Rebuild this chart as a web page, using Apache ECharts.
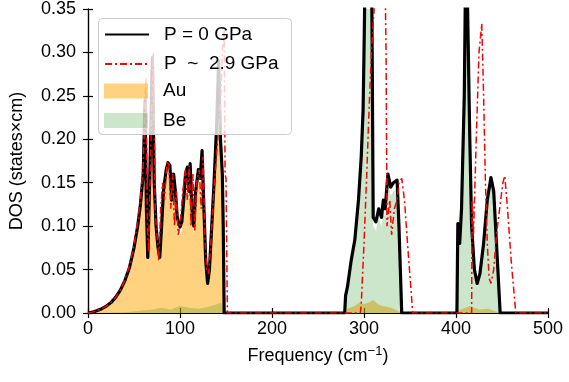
<!DOCTYPE html>
<html>
<head>
<meta charset="utf-8">
<script src="https://cdn.jsdelivr.net/npm/echarts@6/dist/echarts.min.js"></script>
<style>
html,body{margin:0;padding:0;background:#fff;}
#chart{width:569px;height:382px;}
</style>
</head>
<body>
<div id="chart"></div>
<script>
// ---- data ----
var xTicks = [0, 100, 200, 300, 400, 500];
var yTicks = [0.00, 0.05, 0.10, 0.15, 0.20, 0.25, 0.30, 0.35];

var freqP0 = [0,5,10,15,20,25,30,35,40,45,50,54,57,60,62,63.5,65,67,70,72,74,76,78,80,82,85,87,89,91,93,95,97,100,102,104,106,108,110,111,113,115,117,120,122,124,126,128,130,132,134,137,140,142,144,146,147,148,
  279,280,282,286,290,294,297,299,300,302,305,308,310,313,316,319,321,323,326,329,332,336,338,341,
  401,402,404,406,409,411,413,415,417,420,423,426,430,434,438,441,444,448,500];
var dosP0 = [0,0.001,0.003,0.005,0.008,0.012,0.018,0.026,0.037,0.052,0.075,0.1,0.125,0.16,0.245,0.12,0.064,0.15,0.294,0.15,0.1,0.076,0.064,0.1,0.14,0.165,0.173,0.17,0.13,0.16,0.14,0.11,0.099,0.105,0.13,0.16,0.168,0.14,0.172,0.12,0.1,0.14,0.165,0.155,0.187,0.12,0.06,0.034,0.05,0.09,0.15,0.22,0.29,0.2,0.16,0.1,0,
  0,0.02,0.03,0.06,0.084,0.13,0.18,0.233,0.30,0.45,0.5,0.45,0.11,0.105,0.12,0.11,0.13,0.12,0.16,0.145,0.15,0.153,0.1,0,
  0,0.103,0.08,0.12,0.25,0.45,0.45,0.2,0.1,0.05,0.034,0.045,0.08,0.13,0.156,0.14,0.08,0,0];

var freqP29 = [0,5,10,15,20,25,30,35,40,45,50,54,57,60,63,64.5,66,68,71,73,75,77,79,81,83,86,88,90,92,94,96,98,100,103,106,108,110,112,114,116,118,121,123,125,127,129,131,133,135,138,141,144,146,148,149,150,151.5,
  296,297,300,303,305,308,311,314,318,322,324,325,328,330,333,336,338,341,344,348,353,
  417,417.5,419,422,425,428,430,432,434,436,438,441,444,448,451,453,456,460,465,500];
var dosP29 = [0,0.001,0.003,0.005,0.008,0.012,0.018,0.026,0.038,0.054,0.078,0.105,0.13,0.17,0.27,0.1,0.07,0.18,0.30,0.12,0.09,0.06,0.12,0.15,0.13,0.175,0.17,0.12,0.16,0.1,0.14,0.09,0.1,0.14,0.165,0.13,0.17,0.1,0.16,0.095,0.15,0.165,0.12,0.18,0.09,0.05,0.045,0.07,0.11,0.16,0.2,0.24,0.3,0.325,0.16,0.155,0,
  0,0.01,0.08,0.16,0.22,0.3,0.35,0.45,0.5,0.45,0.3,0.1,0.13,0.09,0.12,0.13,0.15,0.155,0.13,0.07,0,
  0,0.13,0.09,0.2,0.3,0.333,0.25,0.15,0.08,0.04,0.034,0.05,0.09,0.125,0.15,0.158,0.12,0.06,0,0];

var freqAu = [0,10,20,30,40,45,50,54,57,60,62,63.5,65,67,70,72,74,76,78,80,82,85,87,89,91,93,95,97,100,102,104,106,108,110,111,113,115,117,120,122,124,126,128,130,132,134,137,140,142,144,146,147,148,
  279,282,290,295,300,305,310,315,320,330,341,401,405,415,425,435,448,500];
var dosAu = [0,0.0028,0.0075,0.017,0.035,0.049,0.071,0.095,0.118,0.15,0.225,0.11,0.058,0.14,0.26,0.14,0.092,0.068,0.058,0.092,0.13,0.153,0.16,0.157,0.12,0.148,0.13,0.1,0.09,0.095,0.12,0.148,0.155,0.13,0.158,0.11,0.09,0.13,0.152,0.143,0.172,0.11,0.054,0.03,0.045,0.082,0.138,0.2,0.26,0.18,0.145,0.09,0,
  0,0.005,0.008,0.012,0.01,0.012,0.015,0.01,0.008,0.006,0,0,0.004,0.008,0.004,0.005,0,0];

var freqBe = [0,40,60,70,80,90,100,110,120,130,140,145,148,
  279,280,282,286,290,294,297,299,300,302,305,308,310,313,316,319,321,323,326,329,332,336,338,341,
  401,402,404,406,409,411,413,415,417,420,423,426,430,434,438,441,444,448,500];
var dosBe = [0,0.001,0.003,0.004,0.006,0.004,0.008,0.006,0.005,0.007,0.01,0.012,0,
  0,0.015,0.025,0.052,0.075,0.12,0.17,0.22,0.29,0.44,0.49,0.44,0.1,0.095,0.11,0.1,0.12,0.11,0.15,0.135,0.14,0.143,0.09,0,
  0,0.095,0.075,0.11,0.24,0.44,0.44,0.19,0.095,0.045,0.03,0.04,0.075,0.125,0.15,0.135,0.075,0,0];

var seriesNames = ['P = 0 GPa', 'P  ~  2.9 GPa', 'Au', 'Be'];

function pairs(xs, ys){ return xs.map(function(x,i){ return [x, ys[i]]; }); }

var FONT = '"Liberation Sans", Arial, Helvetica, sans-serif';
var chart = echarts.init(document.getElementById('chart'), null, {renderer:'canvas'});

var axisCommon = {
  axisLine:{show:true, lineStyle:{color:'#000', width:1.2}},
  axisTick:{show:true, inside:true, length:5, lineStyle:{color:'#000', width:1.2}},
  splitLine:{show:false}
};
var legendCommon = {
  orient:'vertical', left:98, z:101,
  itemWidth:44, itemHeight:15, itemGap:10.4,
  textStyle:{fontFamily:FONT, fontSize:19, color:'#000', padding:[0,0,0,10]}
};

chart.setOption({
  animation:false,
  backgroundColor:'#fff',
  textStyle:{fontFamily:FONT},
  grid:{left:88, right:21, top:8, bottom:69},
  graphic:[{
    type:'rect', z:100, silent:true,
    shape:{x:98.5, y:18.5, width:193, height:116, r:4},
    style:{fill:'rgba(255,255,255,0.8)', stroke:'#cccccc', lineWidth:1}
  }],
  legend:[
    Object.assign({}, legendCommon, {
      top:18, padding:[7,13,0,6],
      data:[
        {name:seriesNames[0], itemStyle:{opacity:0}},
        {name:seriesNames[1], itemStyle:{opacity:0}}
      ]
    }),
    Object.assign({}, legendCommon, {
      top:81.5, padding:[0,13,0,6],
      data:[
        {name:seriesNames[2], icon:'rect'},
        {name:seriesNames[3], icon:'rect'}
      ]
    })
  ],
  xAxis:[
    Object.assign({}, axisCommon, {
      type:'value', min:0, max:500, interval:100, position:'bottom',
      axisLabel:{show:true, margin:7, fontSize:18, color:'#000', fontFamily:FONT,
        formatter:function(v){ return xTicks.indexOf(v)>=0 ? String(v) : ''; }},
      name:'Frequency (cm{sup|\u22121})', nameLocation:'middle', nameGap:32,
      nameTextStyle:{fontSize:18, color:'#000', fontFamily:FONT,
        rich:{sup:{fontSize:13, color:'#000', fontFamily:FONT, padding:[0,0,9,0]}}}
    }),
    Object.assign({}, axisCommon, {
      type:'value', min:0, max:500, interval:100, position:'top',
      axisLabel:{show:false}
    })
  ],
  yAxis:[
    Object.assign({}, axisCommon, {
      type:'value', min:0, max:0.35, interval:0.05, position:'left',
      axisLabel:{show:true, margin:12, fontSize:18, color:'#000', fontFamily:FONT,
        formatter:function(v){ return v.toFixed(2); }},
      name:'DOS (states\u00d7cm)', nameLocation:'middle', nameGap:62, nameRotate:90,
      nameTextStyle:{fontSize:18, color:'#000', fontFamily:FONT}
    }),
    Object.assign({}, axisCommon, {
      type:'value', min:0, max:0.35, interval:0.05, position:'right',
      axisLabel:{show:false}
    })
  ],
  series:[
    {
      name:seriesNames[2], type:'line', data:pairs(freqAu, dosAu),
      symbol:'none', z:1, clip:true,
      color:'rgba(255,165,0,0.5)',
      lineStyle:{width:0, color:'rgba(255,165,0,0)'},
      areaStyle:{color:'rgba(255,165,0,0.5)', opacity:1}
    },
    {
      name:seriesNames[3], type:'line', data:pairs(freqBe, dosBe),
      symbol:'none', z:1, clip:true,
      color:'rgba(0,128,0,0.2)',
      lineStyle:{width:0, color:'rgba(0,128,0,0)'},
      areaStyle:{color:'rgba(0,128,0,0.2)', opacity:1}
    },
    {
      name:seriesNames[0], type:'line', data:pairs(freqP0, dosP0),
      symbol:'none', z:2, clip:true,
      color:'#000',
      lineStyle:{width:3.2, color:'#000', join:'round'}
    },
    {
      name:seriesNames[1], type:'line', data:pairs(freqP29, dosP29),
      symbol:'none', z:3, clip:true,
      color:'#ff0000',
      lineStyle:{width:1.5, color:'#ff0000', type:[7,3,2,3]}
    }
  ]
});
</script>
</body>
</html>
